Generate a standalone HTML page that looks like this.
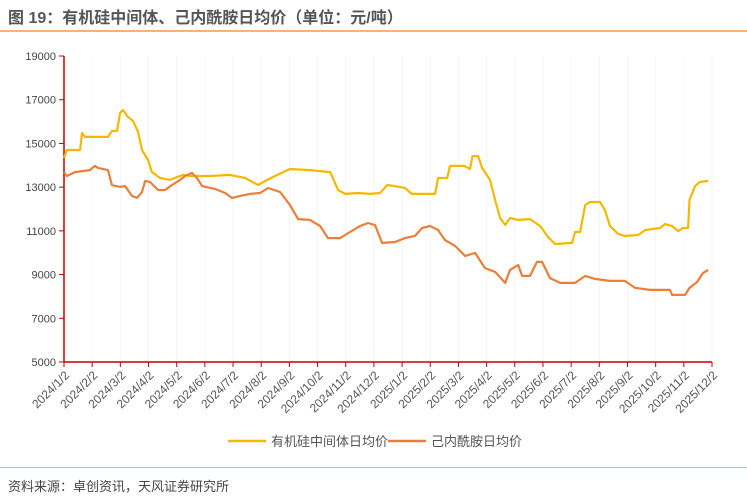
<!DOCTYPE html>
<html><head><meta charset="utf-8"><style>
body{margin:0;width:747px;height:498px;background:#fff;overflow:hidden;font-family:"Liberation Sans","Noto Sans CJK SC",sans-serif}
#title{position:absolute;left:8px;top:4px;font-size:16px;font-weight:bold;color:#555}
#tline{position:absolute;left:0;top:30px;width:747px;height:2px;background:#f6b27a}
#bline{position:absolute;left:0;top:467px;width:747px;height:1px;background:#f6b27a}
#src{position:absolute;left:8px;top:476px;font-size:13px;color:#444}
svg{position:absolute;left:0;top:0}
</style></head><body>
<div id="title">图 19：有机硅中间体、己内酰胺日均价（单位：元/吨）</div>
<div id="tline"></div>
<svg id="c" width="747" height="498"></svg>
<div id="bline"></div>
<div id="src">资料来源：卓创资讯，天风证券研究所</div>
<script>
const xLabels=["2024/1/2","2024/2/2","2024/3/2","2024/4/2","2024/5/2","2024/6/2","2024/7/2","2024/8/2","2024/9/2","2024/10/2","2024/11/2","2024/12/2","2025/1/2","2025/2/2","2025/3/2","2025/4/2","2025/5/2","2025/6/2","2025/7/2","2025/8/2","2025/9/2","2025/10/2","2025/11/2","2025/12/2"];
const yTicks=[5000,7000,9000,11000,13000,15000,17000,19000];
const siliconT=[0,0.1,0.57,0.64,0.75,1.56,1.7,1.88,1.99,2.09,2.27,2.45,2.63,2.77,2.98,3.12,3.41,3.76,4.22,4.47,5.18,5.89,6.43,6.89,7.14,7.49,8.02,8.73,9.45,9.73,9.98,10.44,10.86,11.22,11.47,11.75,12.1,12.35,13.17,13.28,13.6,13.7,14.2,14.41,14.5,14.7,14.84,15.12,15.3,15.48,15.66,15.83,16.12,16.54,16.9,17.18,17.43,18.03,18.14,18.32,18.5,18.67,19.03,19.2,19.38,19.67,19.91,20.38,20.63,21.16,21.33,21.58,21.8,21.97,22.15,22.2,22.4,22.57,22.86];
const siliconV=[14330,14700,14700,15480,15300,15300,15570,15570,16390,16530,16210,16030,15520,14700,14240,13690,13420,13330,13560,13510,13510,13560,13420,13100,13280,13510,13830,13780,13690,12870,12690,12730,12690,12730,13100,13050,12960,12690,12690,13420,13420,13970,13970,13830,14420,14420,13880,13330,12410,11590,11270,11590,11500,11540,11220,10720,10400,10450,10950,10950,12180,12320,12320,11950,11220,10860,10770,10810,11040,11130,11310,11220,10990,11130,11130,12410,13050,13240,13280];
const caproT=[0,0.1,0.39,0.92,1.1,1.21,1.56,1.7,1.99,2.17,2.41,2.59,2.77,2.88,3.05,3.34,3.59,3.83,4.12,4.3,4.54,4.72,4.9,5.36,5.72,5.96,6.25,6.6,6.96,7.24,7.67,8.02,8.31,8.73,9.09,9.37,9.8,10.15,10.51,10.79,11.04,11.29,11.75,12.1,12.46,12.71,12.99,13.28,13.52,13.88,14.24,14.59,14.94,15.3,15.66,15.83,16.12,16.26,16.54,16.79,16.97,17.25,17.61,18.14,18.5,18.85,19.38,19.74,19.91,20.27,20.8,21.51,21.58,22.04,22.2,22.47,22.68,22.86];
const caproV=[13690,13510,13690,13780,13970,13880,13780,13100,13010,13050,12600,12510,12780,13280,13240,12870,12870,13100,13330,13510,13650,13420,13050,12920,12730,12510,12600,12690,12730,12960,12780,12180,11540,11500,11220,10670,10670,10950,11220,11360,11270,10450,10490,10670,10770,11130,11220,11040,10580,10310,9850,9990,9300,9120,8620,9210,9440,8940,8940,9580,9580,8840,8620,8620,8940,8800,8710,8710,8710,8390,8300,8300,8070,8070,8390,8660,9070,9210];
const L=64,R=712,T=56,B=362,svg=document.getElementById('c'),NS='http://www.w3.org/2000/svg';
const xs=i=>L+(R-L)*i/(xLabels.length-1);
const ys=v=>B-(v-5000)/14000*(B-T);
function mk(t,a){const e=document.createElementNS(NS,t);for(const k in a)e.setAttribute(k,a[k]);svg.appendChild(e);return e;}
xLabels.forEach((s,i)=>{const x=xs(i);
const g=mk('line',{x1:x,y1:T,x2:x,y2:B,stroke:'#f4f4f4'});


const tk=mk('line',{x1:x,y1:B,x2:x,y2:B+5,stroke:'#c00000'});


const t=mk('text',{x:x+6,y:B+14,'font-size':'12','fill':'#555','text-anchor':'end',transform:`rotate(-45 ${x+6} ${B+14})`});
t.textContent=s;

});
yTicks.forEach(v=>{const y=ys(v);
const tk=mk('line',{x1:L-5,y1:y,x2:L,y2:y,stroke:'#c00000'});


const t=mk('text',{x:L-8,y:y+4,'font-size':'11','fill':'#444','text-anchor':'end'});
t.textContent=v;

});
const ya=mk('line',{x1:L,y1:T,x2:L,y2:B,stroke:'#c00000','stroke-width':1.5});


const xa=mk('line',{x1:L,y1:B,x2:R,y2:B,stroke:'#c00000','stroke-width':1.5});


function series(T_,V,col,name){const d=T_.map((t,i)=>(i?'L':'M')+xs(t).toFixed(1)+','+ys(V[i]).toFixed(1)).join('');
const p=mk('path',{d:d,fill:'none',stroke:col,'stroke-width':2.2,'stroke-linejoin':'round'});

}
series(siliconT,siliconV,'#f5b800','silicon-line');
series(caproT,caproV,'#ea7e3a','caprolactam-line');
[[228,'#f5b800','有机硅中间体日均价','legend-silicon'],[388,'#ea7e3a','己内酰胺日均价','legend-caprolactam']].forEach(a=>{
const l=mk('line',{x1:a[0],y1:441,x2:a[0]+38,y2:441,stroke:a[1],'stroke-width':2.5});


const t=mk('text',{x:a[0]+43,y:446,'font-size':'13','fill':'#555'});
t.textContent=a[2];

});
</script>
</body></html>
